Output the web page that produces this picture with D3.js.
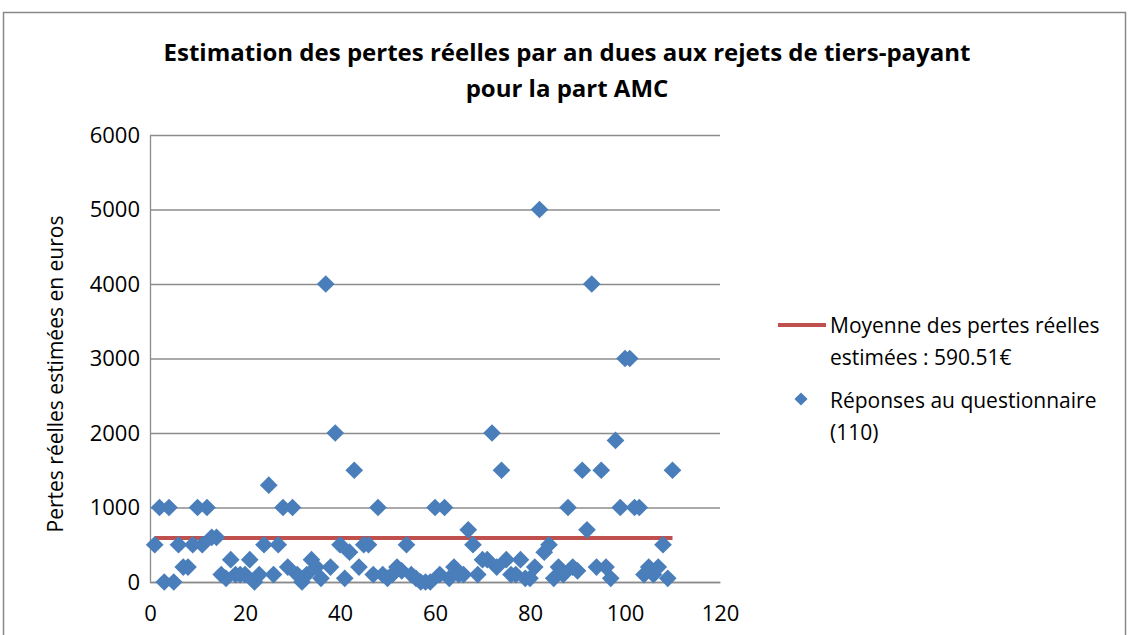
<!DOCTYPE html>
<html>
<head>
<meta charset="utf-8">
<script src="https://cdn.jsdelivr.net/npm/d3@7"></script>
<style>
  body { margin: 0; background: #fff; }
  svg text { font-family: "Open Sans", "Noto Sans", sans-serif; fill: #000; }
</style>
</head>
<body>
<div id="container"></div>
<script>
// responses to the questionnaire, index 1..110
var losses = [
  500, 1000, 0, 1000, 0, 500, 200, 200, 500, 1000,
  500, 1000, 600, 600, 100, 50, 300, 100, 100, 100,
  300, 0, 100, 500, 1300, 100, 500, 1000, 200, 1000,
  100, 0, 100, 300, 200, 50, 4000, 200, 2000, 500,
  50, 400, 1500, 200, 500, 500, 100, 1000, 100, 50,
  100, 200, 150, 500, 100, 50, 0, 0, 0, 1000,
  100, 1000, 50, 200, 100, 100, 700, 500, 100, 300,
  300, 2000, 200, 1500, 300, 100, 100, 300, 50, 50,
  200, 5000, 400, 500, 50, 200, 100, 1000, 200, 150,
  1500, 700, 4000, 200, 1500, 200, 50, 1900, 1000, 3000,
  3000, 1000, 1000, 100, 200, 100, 200, 500, 50, 1500
];
var meanLoss = 590.51;
var xTicks = [0, 20, 40, 60, 80, 100, 120];
var yTicks = [0, 1000, 2000, 3000, 4000, 5000, 6000];
var titleLines = ["Estimation des pertes réelles par an dues aux rejets de tiers-payant", "pour la part AMC"];
var legendLabels = [["Moyenne des pertes réelles", "estimées : 590.51€"], ["Réponses au questionnaire", "(110)"]];

var width = 1130, height = 635;
var margin = { left: 150, top: 135, right: 410, bottom: 53 };

var svg = d3.select("#container").append("svg")
  .attr("width", width).attr("height", height);

svg.append("rect")
  .attr("x", 3.5).attr("y", 12.5)
  .attr("width", 1122).attr("height", 640)
  .attr("fill", "#fff").attr("stroke", "#888").attr("stroke-width", 1.5);

var x = d3.scaleLinear().domain([0, 120]).range([margin.left, width - margin.right]);
var y = d3.scaleLinear().domain([0, 6000]).range([height - margin.bottom, margin.top]);

// gridlines
svg.append("g")
  .attr("transform", "translate(" + margin.left + ",0)")
  .call(d3.axisLeft(y).tickValues(yTicks).tickSize(-(x(120) - x(0))).tickFormat(""))
  .call(g => g.select(".domain").remove())
  .call(g => g.selectAll("line").attr("stroke", "#8c8c8c").attr("stroke-width", 1.3));

// y axis
var yAxis = svg.append("g")
  .attr("transform", "translate(" + margin.left + ",0)")
  .call(d3.axisLeft(y).tickValues(yTicks).tickSize(0).tickPadding(10).tickFormat(d3.format("d")));
yAxis.select(".domain").attr("stroke", "#8c8c8c").attr("stroke-width", 1.3);
yAxis.selectAll("text").style("font-size", "22px").attr("fill", "#000");

// x axis
var xAxis = svg.append("g")
  .attr("transform", "translate(0," + y(0) + ")")
  .call(d3.axisBottom(x).tickValues(xTicks).tickSize(0).tickPadding(23));
xAxis.select(".domain").attr("stroke", "#8c8c8c").attr("stroke-width", 1.3);
xAxis.selectAll("text").style("font-size", "22px").attr("fill", "#000");

// mean line
var meanLine = d3.line().x(d => x(d)).y(() => y(meanLoss));
svg.append("path")
  .attr("d", meanLine([1, 110]))
  .attr("fill", "none").attr("stroke", "#c0504d").attr("stroke-width", 4);

// points
var diamond = d3.symbol().type(d3.symbolDiamond2).size(200);
svg.append("g").selectAll("path")
  .data(losses)
  .join("path")
  .attr("d", diamond)
  .attr("transform", (d, i) => "translate(" + x(i + 1) + "," + y(d) + ")")
  .attr("fill", "#4a7ebb");

// title
svg.append("g").selectAll("text")
  .data(titleLines)
  .join("text")
  .attr("x", 567).attr("y", (d, i) => 61 + i * 36)
  .attr("text-anchor", "middle")
  .style("font-size", "24px").style("font-weight", "bold")
  .text(d => d);

// y title
svg.append("text")
  .attr("transform", "translate(63,374) rotate(-90)")
  .attr("text-anchor", "middle")
  .style("font-size", "21px")
  .text("Pertes réelles estimées en euros");

// legend
var legend = svg.append("g");
legend.append("line")
  .attr("x1", 778).attr("x2", 826).attr("y1", 325).attr("y2", 325)
  .attr("stroke", "#c0504d").attr("stroke-width", 4);
legend.append("path")
  .attr("d", d3.symbol().type(d3.symbolDiamond2).size(110))
  .attr("transform", "translate(801,399)")
  .attr("fill", "#4a7ebb");
legendLabels.forEach(function (lines, k) {
  legend.append("g").selectAll("text")
    .data(lines)
    .join("text")
    .attr("x", 830).attr("y", (d, i) => 333 + k * 75 + i * 32)
    .style("font-size", "21px")
    .text(d => d);
});
</script>
</body>
</html>
